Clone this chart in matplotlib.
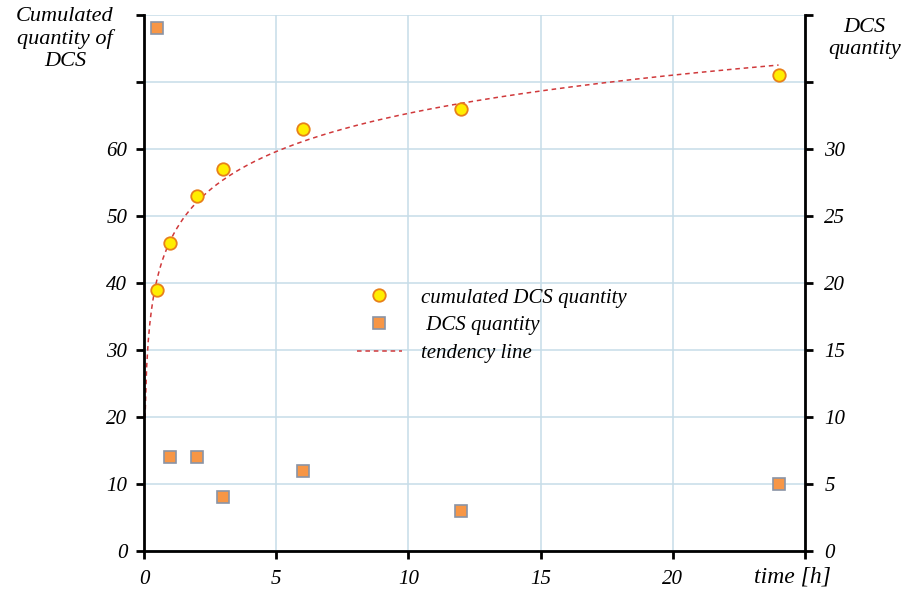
import numpy as np
import matplotlib.pyplot as plt

hours = [0.5, 1, 2, 3, 6, 12, 24]
cumulated = [39, 46, 53, 57, 63, 66, 71]
dcs_qty = [39, 7, 7, 4, 6, 3, 5]

left_ticks = [0, 10, 20, 30, 40, 50, 60, 70, 80]
left_labels = ["0", "10", "20", "30", "40", "50", "60", "", ""]
right_ticks = [0, 5, 10, 15, 20, 25, 30, 35, 40]
right_labels = ["0", "5", "10", "15", "20", "25", "30", "", ""]
x_ticks = [0, 5, 10, 15, 20, 25]
x_labels = ["0", "5", "10", "15", "20", ""]

plt.rcParams["font.family"] = ["Liberation Serif", "DejaVu Serif"]
plt.rcParams["font.style"] = "italic"

fig = plt.figure(figsize=(9.13, 6.01), dpi=100)
ax = fig.add_axes([0.1577, 0.0832, 0.724, 0.8918])
ax2 = ax.twinx()

grid_c = "#c6dde8"
ax.set_xlim(0, 25)
ax.set_ylim(0, 80)
ax2.set_ylim(0, 40)
ax.set_xticks(x_ticks)
ax.set_xticklabels(x_labels, fontsize=15)
ax.set_yticks(left_ticks)
ax.set_yticklabels(left_labels, fontsize=15)
ax2.set_yticks(right_ticks)
ax2.set_yticklabels(right_labels, fontsize=15)
ax.grid(True, color=grid_c, linewidth=1.1)
ax.set_axisbelow(True)

for a in (ax, ax2):
    a.spines["top"].set_visible(False)
    for s in ("left", "right", "bottom"):
        a.spines[s].set_linewidth(2)
ax.spines["right"].set_visible(False)
ax2.spines["left"].set_visible(False)
ax2.spines["bottom"].set_visible(False)
ax.tick_params(axis="both", width=2, length=6, pad=6)
ax.tick_params(axis="x", pad=8)
ax2.tick_params(axis="y", width=2, length=6, pad=8)

# logarithmic tendency line fitted to the cumulated values
a_fit, b_fit = np.polyfit(np.log(hours), cumulated, 1)
xs = np.linspace(0.04, 24, 400)
ln, = ax.plot(xs, a_fit * np.log(xs) + b_fit, linestyle=(0, (3, 2.5)),
              color="#d0393b", linewidth=1.1, zorder=2)

pts, = ax.plot(hours, cumulated, "o", markersize=9, markerfacecolor="#ffee00",
               markeredgecolor="#e8801a", markeredgewidth=1.3, zorder=4)
sq, = ax2.plot(hours, dcs_qty, "s", markersize=9, markerfacecolor="#f79646",
               markeredgecolor="#8a94a6", markeredgewidth=1.2, zorder=4)

leg = fig.legend([pts, sq, ln], ["cumulated DCS quantity", " DCS quantity", "tendency line"],
                 loc="upper left", bbox_to_anchor=(0.37, 0.552), frameon=False,
                 fontsize=15, handlelength=2.2, handletextpad=0.9, labelspacing=0.4)

fig.text(0.071, 0.988, "Cumulated\nquantity of\nDCS", ha="center", va="top",
         fontsize=16, linespacing=1.2)
fig.text(0.947, 0.97, "DCS\nquantity", ha="center", va="top",
         fontsize=16, linespacing=1.2)
fig.text(0.868, 0.04, "time [h]", ha="center", va="center", fontsize=17)

plt.savefig("out.png", dpi=100)
